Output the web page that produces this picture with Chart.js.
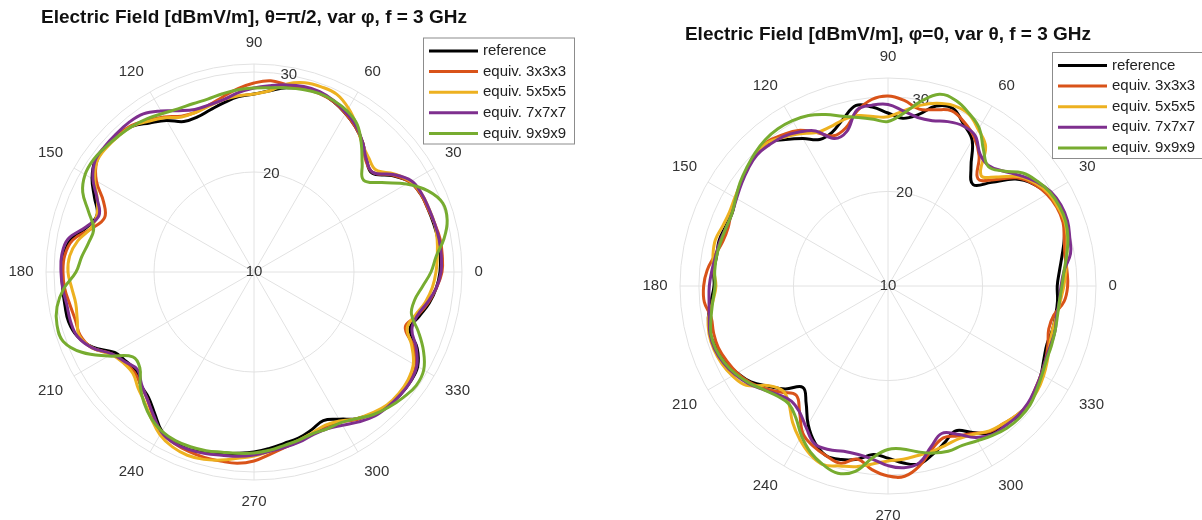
<!DOCTYPE html>
<html>
<head>
<meta charset="utf-8">
<script src="https://cdn.jsdelivr.net/npm/chart.js@4.4.0/dist/chart.umd.min.js"></script>
<style>
  html, body { margin: 0; padding: 0; background: #fff; overflow: hidden; }
  body { width: 1202px; height: 520px; position: relative; }
  canvas { position: absolute; top: 0; }
  #left { left: -20px; }
  #right { left: 600px; }
</style>
</head>
<body>
<canvas id="left" width="620" height="520"></canvas>
<canvas id="right" width="602" height="530"></canvas>
<script>
// angle in degrees, 0 = right, counter-clockwise (MATLAB polarplot)
const angles = [
  0, 5, 10, 15, 20, 25, 30, 35, 40, 45, 50, 55,
  60, 65, 70, 75, 80, 85, 90, 95, 100, 105, 110, 115,
  120, 125, 130, 135, 140, 145, 150, 155, 160, 165, 170, 175,
  180, 185, 190, 195, 200, 205, 210, 215, 220, 225, 230, 235,
  240, 245, 250, 255, 260, 265, 270, 275, 280, 285, 290, 295,
  300, 305, 310, 315, 320, 325, 330, 335, 340, 345, 350, 355
];

const seriesNames = ['reference', 'equiv. 3x3x3', 'equiv. 5x5x5', 'equiv. 7x7x7', 'equiv. 9x9x9'];
const seriesColors = ['#000000', '#D95319', '#EDB120', '#7E2F8E', '#77AC30'];

// radial ticks (dBmV/m), last one is the outer limit
const rTicksLeft = [10, 20, 30, 30.8];
const rTicksRight = [10, 20, 30, 32];

// left: theta = pi/2, var phi
const refLeft = [
  28.6, 28.7, 28.7, 28.6, 28.5, 28.4,
  28.0, 26.8, 25.4, 25.9, 26.9, 27.7,
  28.3, 28.8, 29.1, 29.0, 28.7, 28.2,
  27.8, 27.6, 27.2, 26.8, 26.5, 26.6,
  27.5, 28.2, 29.0, 29.3, 29.4, 29.4,
  28.7, 27.6, 26.7, 27.3, 28.6, 29.1,
  29.2, 29.2, 29.2, 29.2, 28.8, 27.8,
  26.1, 25.6, 25.4, 26.0, 26.4, 27.3,
  28.4, 28.8, 28.9, 28.7, 28.4, 28.2,
  28.0, 27.7, 27.4, 27.2, 26.8, 26.4,
  27.0, 27.9, 28.5, 28.9, 29.1, 29.1,
  28.9, 28.0, 26.6, 27.1, 27.8, 28.3
];
const eq3Left = [
  28.8, 28.9, 28.9, 28.7, 28.5, 28.4,
  28.0, 26.9, 25.5, 25.8, 26.9, 27.7,
  28.3, 28.8, 29.0, 29.0, 29.0, 29.2,
  28.9, 28.4, 27.8, 27.3, 27.0, 27.2,
  27.9, 28.5, 29.1, 29.3, 29.4, 29.2,
  28.2, 26.6, 25.9, 26.8, 28.4, 29.0,
  29.1, 29.0, 28.7, 28.5, 28.5, 27.9,
  26.4, 25.8, 25.6, 26.0, 26.6, 27.6,
  28.5, 28.9, 29.1, 29.2, 29.2, 29.2,
  28.9, 28.3, 27.8, 27.5, 27.2, 27.0,
  27.3, 28.0, 28.5, 28.9, 29.0, 29.0,
  28.7, 27.6, 26.1, 26.9, 27.7, 28.3
];
const eq5Left = [
  28.2, 28.4, 28.6, 28.7, 28.6, 28.5,
  28.1, 27.1, 25.9, 26.2, 26.8, 27.9,
  28.9, 29.6, 29.7, 29.6, 29.1, 28.2,
  27.8, 27.7, 27.5, 27.2, 27.0, 27.1,
  27.8, 28.4, 29.0, 29.2, 29.3, 29.2,
  28.4, 27.3, 26.7, 26.9, 27.9, 28.5,
  28.6, 28.3, 28.1, 28.3, 28.6, 27.9,
  26.5, 25.9, 25.8, 26.4, 27.0, 27.9,
  28.8, 29.3, 29.5, 29.4, 29.1, 28.7,
  28.4, 28.0, 27.7, 27.4, 27.1, 26.9,
  27.2, 27.9, 28.4, 28.8, 28.9, 28.8,
  28.4, 27.4, 26.3, 26.7, 27.4, 27.9
];
const eq7Left = [
  28.7, 28.8, 28.8, 28.7, 28.6, 28.5,
  28.2, 27.0, 25.5, 25.9, 26.9, 27.8,
  28.4, 28.9, 29.2, 29.2, 29.0, 28.7,
  28.4, 28.0, 27.5, 27.3, 27.3, 27.8,
  28.6, 29.3, 29.5, 29.5, 29.5, 29.4,
  28.6, 27.3, 26.5, 27.4, 28.9, 29.3,
  29.3, 29.2, 29.0, 29.0, 28.8, 27.9,
  26.4, 25.7, 25.2, 25.9, 26.6, 27.5,
  28.5, 28.9, 28.9, 28.8, 28.6, 28.5,
  28.3, 28.0, 27.8, 27.6, 27.3, 27.3,
  27.7, 28.3, 28.8, 29.0, 29.1, 29.1,
  28.8, 27.9, 26.8, 26.9, 27.6, 28.3
];
const eq9Left = [
  27.7, 28.3, 29.3, 30.0, 30.1, 29.2,
  27.6, 25.6, 24.3, 25.3, 26.7, 28.0,
  28.6, 28.9, 29.0, 28.9, 28.7, 28.5,
  28.4, 28.3, 28.1, 27.9, 27.9, 28.0,
  28.3, 28.7, 29.0, 29.2, 29.4, 29.6,
  29.5, 28.9, 27.6, 26.6, 26.8, 27.3,
  27.8, 29.1, 30.0, 30.4, 30.3, 29.0,
  26.8, 24.8, 24.9, 26.1, 27.1, 27.9,
  28.4, 28.6, 28.6, 28.5, 28.3, 28.2,
  28.1, 27.9, 27.6, 27.4, 27.2, 27.3,
  27.4, 27.9, 28.6, 29.1, 29.5, 29.8,
  29.6, 28.7, 27.5, 26.3, 26.3, 26.9
];

// right: phi = 0, var theta
const refRight = [
  27.9, 28.2, 28.7, 29.3, 29.8, 29.9,
  29.5, 28.8, 27.6, 25.5, 24.0, 25.3,
  27.8, 28.9, 30.0, 29.7, 28.4, 27.8,
  28.3, 29.0, 29.4, 28.3, 27.3, 27.1,
  28.0, 28.9, 29.8, 29.7, 29.4, 29.0,
  28.6, 28.2, 28.3, 28.5, 28.4, 28.5,
  28.4, 28.8, 29.3, 29.5, 29.3, 29.0,
  28.4, 27.7, 26.5, 25.4, 24.0, 25.1,
  26.9, 28.3, 29.1, 29.0, 28.6, 27.9,
  28.2, 28.8, 29.1, 28.4, 27.6, 26.9,
  27.9, 29.0, 29.1, 29.5, 29.5, 29.1,
  28.7, 28.2, 27.9, 28.0, 28.0, 28.0
];
const eq3Right = [
  29.0, 29.0, 29.0, 29.3, 29.7, 29.7,
  29.4, 28.8, 27.8, 25.9, 24.8, 26.8,
  28.2, 29.1, 29.7, 29.3, 29.0, 29.7,
  30.1, 29.8, 28.8, 27.3, 26.9, 27.9,
  29.0, 29.5, 29.9, 29.8, 29.4, 29.0,
  28.6, 28.3, 28.0, 28.1, 28.6, 29.2,
  29.5, 29.5, 29.0, 29.1, 29.1, 28.8,
  28.4, 27.8, 26.9, 25.9, 25.1, 26.3,
  28.0, 28.7, 29.1, 29.4, 28.6, 29.5,
  30.1, 30.2, 29.3, 27.9, 27.1, 27.5,
  28.0, 28.8, 29.0, 29.3, 29.4, 29.0,
  28.7, 28.4, 28.0, 27.6, 27.8, 28.7
];
const eq5Right = [
  28.6, 28.9, 29.2, 29.6, 29.9, 29.8,
  29.6, 29.0, 28.0, 26.3, 25.3, 28.0,
  29.1, 30.1, 30.3, 30.0, 29.4, 28.6,
  27.9, 28.0, 28.3, 28.2, 27.9, 27.9,
  28.6, 29.2, 29.8, 29.7, 29.4, 29.0,
  28.7, 28.5, 28.6, 28.9, 28.8, 28.5,
  28.2, 28.6, 29.3, 29.6, 29.6, 29.4,
  29.0, 28.3, 26.4, 25.7, 26.3, 27.6,
  28.7, 29.6, 30.1, 29.7, 29.4, 28.9,
  28.5, 28.4, 28.2, 28.1, 27.9, 27.8,
  28.1, 28.7, 29.0, 29.3, 29.4, 29.3,
  29.0, 28.6, 28.2, 28.0, 28.1, 28.3
];
const eq7Right = [
  28.3, 28.7, 29.6, 29.9, 30.2, 30.2,
  29.9, 29.2, 28.2, 27.2, 26.6, 27.0,
  28.4, 28.7, 28.5, 28.1, 28.1, 28.6,
  29.2, 29.2, 28.9, 26.9, 26.6, 28.1,
  28.8, 29.3, 29.5, 29.6, 29.3, 28.9,
  28.5, 28.2, 28.2, 28.4, 28.5, 28.7,
  28.9, 29.0, 29.2, 29.5, 29.5, 29.2,
  28.7, 28.0, 27.1, 26.3, 25.9, 26.3,
  27.3, 28.4, 28.4, 28.1, 28.1, 28.4,
  29.0, 29.3, 29.0, 27.6, 26.6, 27.3,
  28.5, 29.2, 29.3, 29.4, 29.3, 29.0,
  28.7, 28.4, 28.3, 28.3, 28.1, 28.2
];
const eq9Right = [
  28.4, 28.7, 29.2, 29.7, 30.0, 30.0,
  29.8, 29.3, 28.6, 27.2, 26.5, 27.6,
  29.3, 30.2, 30.9, 31.0, 29.8, 28.3,
  27.4, 27.7, 28.1, 28.6, 29.3, 29.9,
  30.2, 30.3, 30.2, 29.9, 29.5, 29.1,
  28.6, 28.2, 28.2, 28.3, 28.4, 28.4,
  28.3, 28.6, 29.0, 29.4, 29.4, 29.1,
  28.6, 27.9, 27.1, 26.5, 26.3, 27.0,
  28.3, 29.4, 30.1, 30.5, 29.9, 28.2,
  27.3, 27.3, 27.8, 28.3, 28.6, 28.6,
  28.9, 29.3, 29.6, 29.7, 29.6, 29.2,
  28.8, 28.5, 28.4, 28.3, 28.2, 28.2
];

Chart.defaults.font.family = '"Liberation Sans", Arial, Helvetica, sans-serif';
Chart.defaults.color = '#333';

// radar goes clockwise from the top, so start at 90 deg and walk downwards
const order = angles.map((a, i) => (18 - i + 72) % 72);

// boxed legend like the matlab one
const boxLegend = {
  id: 'boxLegend',
  afterDraw(chart, args, o) {
    const c = chart.ctx;
    c.save();
    c.fillStyle = '#fff';
    c.fillRect(o.x, o.y, o.w, o.h);
    c.strokeStyle = '#8c8c8c';
    c.lineWidth = 1;
    c.strokeRect(o.x + 0.5, o.y + 0.5, o.w, o.h);
    c.font = '15px "Liberation Sans", Arial, sans-serif';
    c.textBaseline = 'middle';
    chart.data.datasets.forEach((ds, i) => {
      const y = o.y + o.first + i * o.step;
      c.strokeStyle = ds.borderColor;
      c.lineWidth = 3;
      c.beginPath();
      c.moveTo(o.x + 6, y);
      c.lineTo(o.x + 55, y);
      c.stroke();
      c.fillStyle = '#222';
      c.fillText(ds.label, o.x + 60, y);
    });
    c.restore();
  }
};

// r tick labels: matlab puts them along the 80 deg spoke, and the min one in the middle
const rTickLabels = {
  id: 'rTickLabels',
  beforeDatasetsDraw(chart) {
    const r = chart.scales.r;
    const c = chart.ctx;
    const a = 80 * Math.PI / 180;
    c.save();
    c.font = '15px "Liberation Sans", Arial, sans-serif';
    c.fillStyle = '#333';
    c.textAlign = 'center';
    c.textBaseline = 'middle';
    r.ticks.forEach(t => {
      if (t.value % 10 !== 0) return;
      const d = r.getDistanceFromCenterForValue(t.value);
      c.fillText(String(t.value), r.xCenter + d * Math.cos(a), r.yCenter - d * Math.sin(a));
    });
    c.restore();
  }
};

function polar(id, title, values, rTicks, titlePad, layoutPad, legendBox) {
  return new Chart(document.getElementById(id), {
    type: 'radar',
    data: {
      labels: order.map(k => angles[k]),
      datasets: values.map((v, s) => ({
        label: seriesNames[s],
        data: order.map(k => v[k]),
        borderColor: seriesColors[s],
        borderWidth: 3,
        pointRadius: 0,
        pointHoverRadius: 0,
        fill: false,
        tension: 0.4,
        order: 5 - s
      }))
    },
    options: {
      responsive: false,
      animation: false,
      layout: { padding: layoutPad },
      scales: {
        r: {
          min: rTicks[0],
          max: rTicks[rTicks.length - 1],
          startAngle: 0,
          afterBuildTicks: scale => { scale.ticks = rTicks.map(v => ({ value: v })); },
          ticks: {
            showLabelBackdrop: false,
            backdropPadding: 0,
            font: { size: 15 },
            callback: () => ''
          },
          grid: { circular: true, color: '#e2e2e2' },
          angleLines: {
            color: '#e2e2e2',
            lineWidth: ctx => (ctx.label ? 1 : 0)
          },
          pointLabels: {
            padding: 5,
            color: '#333',
            font: { size: 15 },
            callback: label => (label % 30 === 0 ? String(label) : '')
          }
        }
      },
      plugins: {
        legend: { display: false },
        tooltip: { enabled: false },
        title: {
          display: true,
          text: title,
          color: '#111',
          font: { size: 19, weight: 'bold' },
          padding: titlePad
        },
        boxLegend: legendBox
      }
    },
    plugins: [boxLegend, rTickLabels]
  });
}

polar('left', 'Electric Field [dBmV/m], θ=π/2, var φ, f = 3 GHz',
  [refLeft, eq3Left, eq5Left, eq7Left, eq9Left], rTicksLeft,
  { top: 6.6, bottom: 4.1 },
  { left: 4, right: 76, top: 0, bottom: 9.5 },
  { x: 443, y: 37.5, w: 151, h: 106, first: 13.5, step: 20.6 });

polar('right', 'Electric Field [dBmV/m], φ=0, var θ, f = 3 GHz',
  [refRight, eq3Right, eq5Right, eq7Right, eq9Right], rTicksRight,
  { top: 23.6, bottom: 1.1 },
  { left: 18, right: 44, top: 0, bottom: 5.5 },
  { x: 452, y: 52, w: 150, h: 106, first: 13.5, step: 20.6 });
</script>
</body>
</html>
